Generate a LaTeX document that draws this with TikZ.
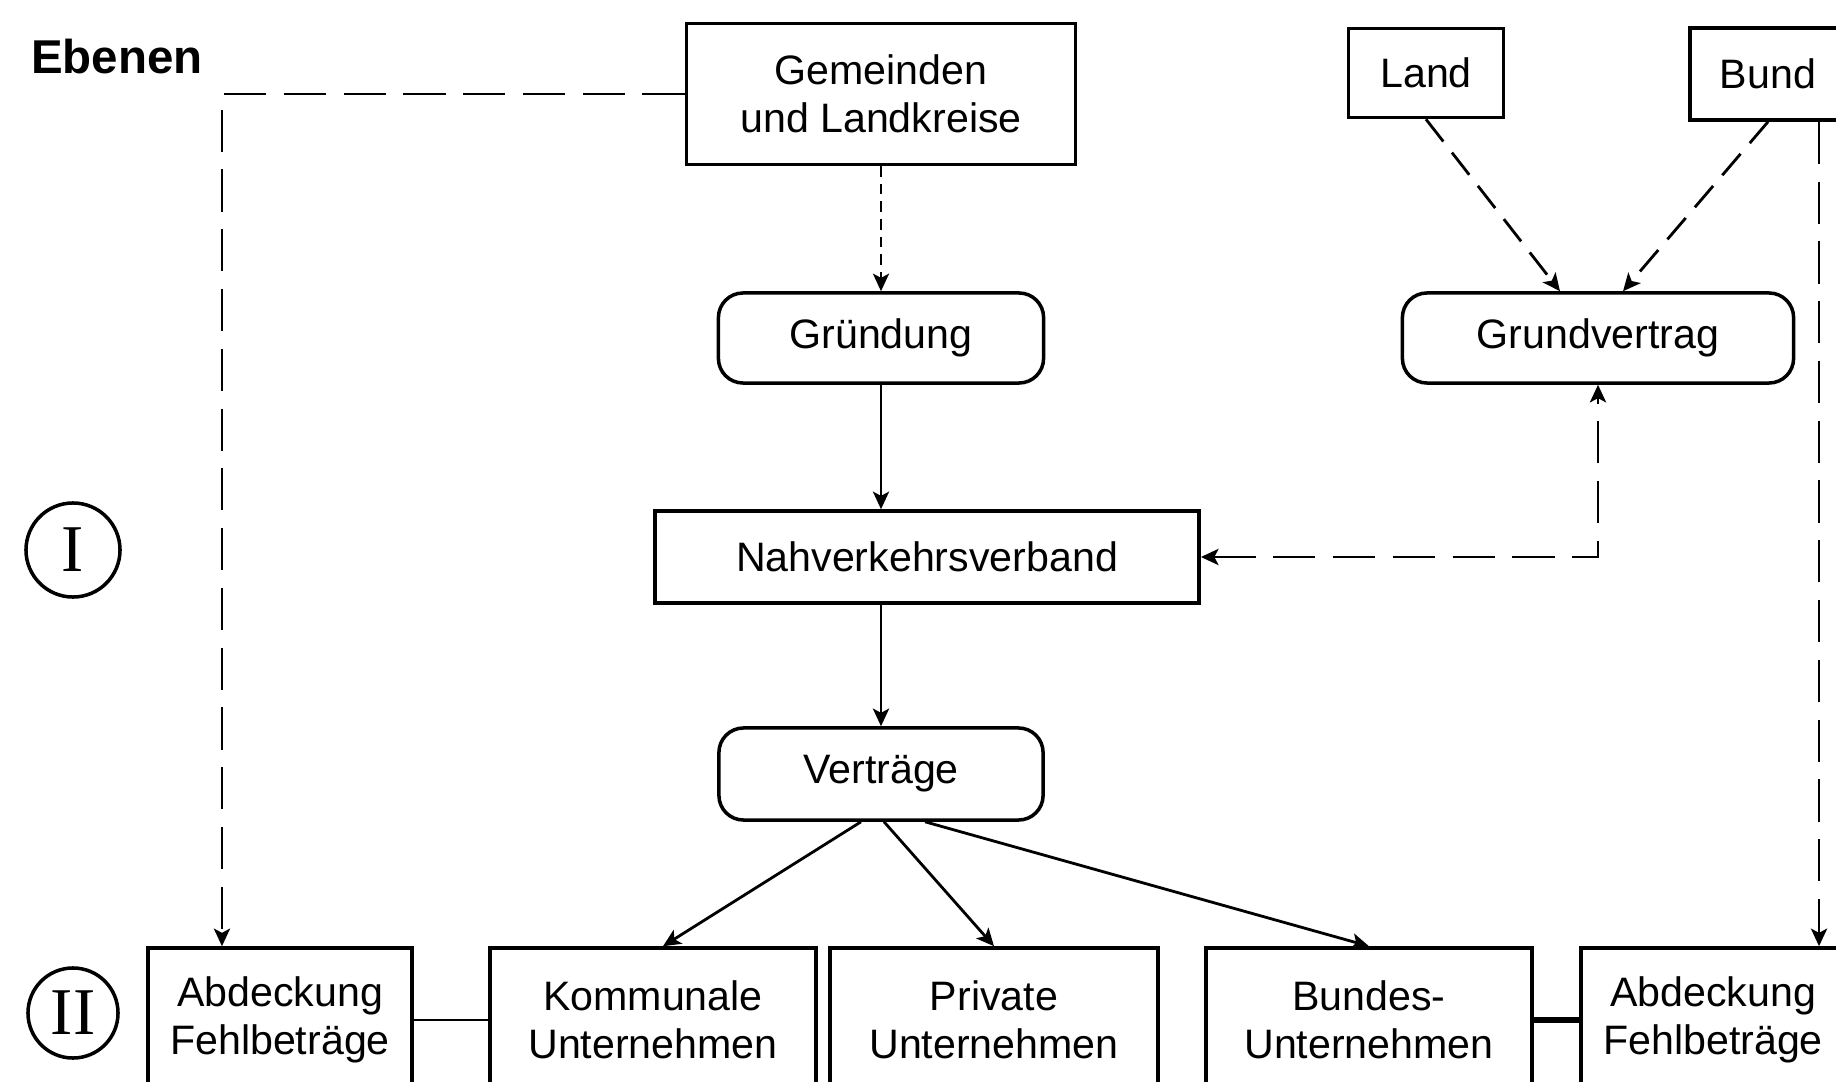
\documentclass[tikz,border=0pt]{standalone}
\usepackage{fontspec}
\setmainfont{Liberation Sans}
\newfontfamily\numfont{Liberation Serif}
\usepackage{tikz}
\usetikzlibrary{positioning,arrows,arrows.meta,shapes,calc}

\begin{document}
\begin{tikzpicture}[->,>={Stealth[length=5pt,width=4.6pt,inset=1.2pt]},x=0.01cm,y=-0.01cm,line width=0.8pt,
    font=\fontsize{11.7}{13.5}\selectfont]
    \tikzstyle{box}=[draw,rectangle,align=center,inner sep=0pt,line width=1pt]
    \tikzstyle{round}=[box,rounded corners=7pt]
    \tikzstyle{level}=[draw,circle,inner sep=0pt,line width=1pt,font=\fontsize{19}{19}\numfont]
    \tikzstyle{longdash}=[dash pattern=on 12pt off 5pt]
    \useasboundingbox (0,0) rectangle (1836,1082);

    \node[font=\fontsize{13.5}{15}\bfseries] (ebenen) at (117,57) {Ebenen};
    \node[level, minimum size=0.94cm] (ebeneI) at (73,550) {I};
    \node[level, minimum size=0.90cm] (ebeneII) at (73,1013) {II};

    % Ebene I
    \node[box, minimum width=3.89cm, minimum height=1.41cm] (gemeinden) at (881,94) {Gemeinden\\und Landkreise};
    \node[box, minimum width=1.55cm, minimum height=0.89cm] (land) at (1426,73) {Land};
    \node[box, minimum width=1.56cm, minimum height=0.92cm] (bund) at (1768,74) {Bund};
    \node[round, minimum width=3.25cm, minimum height=0.90cm] (gruendung) at (881,338) {Gründung};
    \node[round, minimum width=3.91cm, minimum height=0.90cm] (grundvertrag) at (1598,338) {Grundvertrag};
    \node[box, minimum width=5.44cm, minimum height=0.92cm] (nahverkehr) at (927,557) {Nahverkehrsverband};
    \node[round, minimum width=3.24cm, minimum height=0.92cm] (vertraege) at (881,774) {Verträge};

    % Ebene II
    \node[box, minimum width=2.64cm, minimum height=1.44cm] (abdeckL) at (280,1020) {Abdeckung\\Fehlbeträge};
    \node[box, minimum width=3.26cm, minimum height=1.44cm] (kommunal) at (653,1020) {Kommunale\\Unternehmen};
    \node[box, minimum width=3.28cm, minimum height=1.44cm] (privat) at (994,1020) {Private\\Unternehmen};
    \node[box, minimum width=3.26cm, minimum height=1.44cm] (bundesU) at (1369,1020) {Bundes-\\Unternehmen};
    \node[box, minimum width=2.64cm, minimum height=1.44cm] (abdeckR) at (1713,1020) {Abdeckung\\Fehlbeträge};

    \draw[longdash] (gemeinden.west) -| ([xshift=-0.58cm]abdeckL.north);
    \draw[densely dashed, line width=0.6pt] (gemeinden.south) -- (gruendung.north);
    \draw[line width=0.6pt] (gruendung.south) -- (gruendung.south |- nahverkehr.north);
    \draw (vertraege.north |- nahverkehr.south) -- (vertraege.north);
    \draw ([xshift=-0.2cm]vertraege.south) -- ([xshift=0.1cm]kommunal.north);
    \draw ([xshift=0.03cm]vertraege.south) -- (privat.north);
    \draw ([xshift=0.44cm]vertraege.south) -- (bundesU.north);
    \draw[dash pattern=on 8pt off 4pt] (land.south) -- ([xshift=-0.38cm]grundvertrag.north);
    \draw[dash pattern=on 8pt off 4pt] (bund.south) -- ([xshift=0.25cm]grundvertrag.north);
    \draw[<->,longdash] (nahverkehr.east) -| (grundvertrag.south);
    \draw[longdash] ([xshift=0.51cm]bund.south) -- ([xshift=0.51cm]bund.south |- abdeckR.north);
    \draw[-] (abdeckL) -- (kommunal);
    \draw[-,line width=1.6pt] (bundesU) -- (abdeckR);
\end{tikzpicture}
\end{document}
